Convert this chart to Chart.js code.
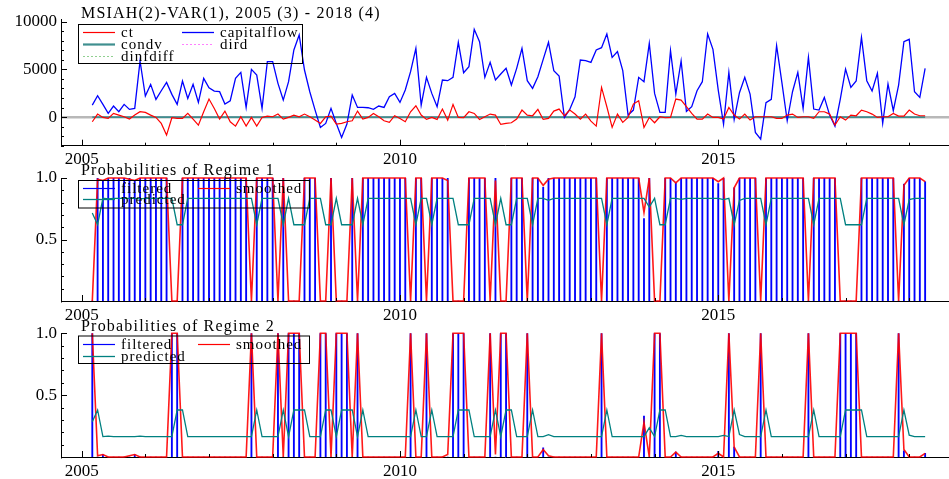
<!DOCTYPE html>
<html>
<head>
<meta charset="utf-8">
<script src="https://cdn.jsdelivr.net/npm/chart.js@4.4.1/dist/chart.umd.min.js"></script>
<style>
  html, body { margin: 0; padding: 0; background: #fff; }
  #wrap { position: relative; width: 949px; height: 479px; overflow: hidden; }
  canvas { position: absolute; left: 0; }
</style>
</head>
<body>
<div id="wrap">
  <canvas id="varChart" width="949" height="170" style="top:0px"></canvas>
  <canvas id="regime1Chart" width="949" height="165" style="top:160px"></canvas>
  <canvas id="regime2Chart" width="949" height="161" style="top:318px"></canvas>
</div>
<script>
// monthly sample 2005(3) - 2018(4), one row per calendar year
const firstYear = 2005;
const firstMonth = 3;
const yearTicks = [2005, 2006, 2007, 2008, 2009, 2010, 2011, 2012, 2013, 2014, 2015, 2016, 2017, 2018];

const capitalflow = [
  1260, 2240, 1330, 385, 1155, 560, 1330, 805, 910, 5880,
  2205, 3430, 1855, 2765, 3640, 2380, 1330, 3780, 1960, 3430, 1540, 4060,
  3080, 2730, 2660, 1365, 1715, 4060, 4690, 1015, 5005, 4410, 910, 5810,
  5810, 3535, 1785, 3710, 7035, 8610, 4935, 2660, 735, -1085, -665, 910,
  -665, -2135, -735, 2310, 1015, 1015, 980, 805, 1155, 1015, 2135, 2485,
  1540, 2835, 4760, 7210, 1260, 4165, 2485, 1085, 3885, 3815, 4165, 7840,
  4655, 5285, 9205, 7910, 4165, 5740, 3885, 4515, 5110, 3360, 5110, 7210,
  3815, 3010, 4235, 6055, 7840, 4865, 4305, -35, 805, 2135, 5985, 5915,
  5740, 7035, 7280, 8715, 6265, 6860, 4865, 210, 735, 4165, 3710, 7735,
  2485, 490, 490, 6965, 2415, 5880, 600, 1085, 2765, 3710, 8715, 7105,
  2835, -735, 4690, -245, 2555, 4165, 2415, -1610, -2310, 1505, 1855, 7490,
  3605, -385, 2660, 4690, 910, 6265, 840, 735, 2065, 210, -945, 1855,
  5040, 3115, 3780, 8365, 3815, 2730, 4585, -665, 3465, 665, 3360, 7910,
  8155, 2660, 2065, 5110
];

const ct = [
  -490, 315, -35, -140, 385, 210, 35, -210, 210, 560,
  490, 210, -35, -665, -1890, -70, -140, -140, 385, -210, -840, 560,
  1890, 910, -210, 630, -490, -945, 35, -945, -35, -945, -35, 105,
  35, 315, -210, -35, 210, 35, 315, 35, -315, -665, 35, 105,
  -735, -665, -490, -385, 630, -210, -35, 385, 35, -385, -560, 140,
  -140, -490, 560, 1190, 210, -245, -35, -245, 840, -315, 1330, -35,
  -70, 560, 385, -245, 35, 315, 210, -770, -665, -595, -210, 735,
  210, 140, 805, -245, -140, 630, 840, 140, 735, 315, -210, 315,
  -420, -945, 3115, 1085, -1085, 315, -560, -35, 1365, 1715, -1085, -35,
  -595, 35, -70, -35, 1890, 1785, 1100, 385, -210, -210, 315, -35,
  -35, -210, 1015, 210, -210, 315, -315, 35, 35, 35, 35, -140,
  -140, 210, 315, -35, 35, 35, -140, 560, 560, 315, -840, 35,
  -315, 210, 140, 735, 560, 315, -35, 35, 35, 385, 105, 105,
  735, 315, 140, 140
];

// condv, dird and dinfdiff sit on the zero line at this scale
const condv = [
  0, 0, 0, 0, 0, 0, 0, 0, 0, 0,
  0, 0, 0, 0, 0, 0, 0, 0, 0, 0, 0, 0,
  0, 0, 0, 0, 0, 0, 0, 0, 0, 0, 0, 0,
  0, 0, 0, 0, 0, 0, 0, 0, 0, 0, 0, 0,
  0, 0, 0, 0, 0, 0, 0, 0, 0, 0, 0, 0,
  0, 0, 0, 0, 0, 0, 0, 0, 0, 0, 0, 0,
  0, 0, 0, 0, 0, 0, 0, 0, 0, 0, 0, 0,
  0, 0, 0, 0, 0, 0, 0, 0, 0, 0, 0, 0,
  0, 0, 0, 0, 0, 0, 0, 0, 0, 0, 0, 0,
  0, 0, 0, 0, 0, 0, 0, 0, 0, 0, 0, 0,
  0, 0, 0, 0, 0, 0, 0, 0, 0, 0, 0, 0,
  0, 0, 0, 0, 0, 0, 0, 0, 0, 0, 0, 0,
  0, 0, 0, 0, 0, 0, 0, 0, 0, 0, 0, 0,
  0, 0, 0, 0
];
const dird = [
  0, 0, 0, 0, 0, 0, 0, 0, 0, 0,
  0, 0, 0, 0, 0, 0, 0, 0, 0, 0, 0, 0,
  0, 0, 0, 0, 0, 0, 0, 0, 0, 0, 0, 0,
  0, 0, 0, 0, 0, 0, 0, 0, 0, 0, 0, 0,
  0, 0, 0, 0, 0, 0, 0, 0, 0, 0, 0, 0,
  0, 0, 0, 0, 0, 0, 0, 0, 0, 0, 0, 0,
  0, 0, 0, 0, 0, 0, 0, 0, 0, 0, 0, 0,
  0, 0, 0, 0, 0, 0, 0, 0, 0, 0, 0, 0,
  0, 0, 0, 0, 0, 0, 0, 0, 0, 0, 0, 0,
  0, 0, 0, 0, 0, 0, 0, 0, 0, 0, 0, 0,
  0, 0, 0, 0, 0, 0, 0, 0, 0, 0, 0, 0,
  0, 0, 0, 0, 0, 0, 0, 0, 0, 0, 0, 0,
  0, 0, 0, 0, 0, 0, 0, 0, 0, 0, 0, 0,
  0, 0, 0, 0
];
const dinfdiff = [
  0, 0, 0, 0, 0, 0, 0, 0, 0, 0,
  0, 0, 0, 0, 0, 0, 0, 0, 0, 0, 0, 0,
  0, 0, 0, 0, 0, 0, 0, 0, 0, 0, 0, 0,
  0, 0, 0, 0, 0, 0, 0, 0, 0, 0, 0, 0,
  0, 0, 0, 0, 0, 0, 0, 0, 0, 0, 0, 0,
  0, 0, 0, 0, 0, 0, 0, 0, 0, 0, 0, 0,
  0, 0, 0, 0, 0, 0, 0, 0, 0, 0, 0, 0,
  0, 0, 0, 0, 0, 0, 0, 0, 0, 0, 0, 0,
  0, 0, 0, 0, 0, 0, 0, 0, 0, 0, 0, 0,
  0, 0, 0, 0, 0, 0, 0, 0, 0, 0, 0, 0,
  0, 0, 0, 0, 0, 0, 0, 0, 0, 0, 0, 0,
  0, 0, 0, 0, 0, 0, 0, 0, 0, 0, 0, 0,
  0, 0, 0, 0, 0, 0, 0, 0, 0, 0, 0, 0,
  0, 0, 0, 0
];

// regime 1 probabilities
const filteredR1 = [
  0, 1, 0.98, 1, 1, 1, 1, 1, 0.98, 1,
  1, 1, 1, 1, 1, 0, 0, 1, 1, 1, 1, 1,
  1, 1, 1, 1, 1, 1, 1, 1, 0, 1, 1, 1,
  1, 0, 1, 0, 0, 0, 1, 1, 1, 0, 0, 1,
  0, 0, 0, 1, 0, 1, 1, 1, 1, 1, 1, 1,
  1, 1, 0, 1, 1, 0, 1, 1, 1, 1, 0, 0,
  0, 1, 1, 1, 1, 0, 1, 0, 0, 1, 1, 1,
  0, 1, 1, 0.925, 1, 1, 1, 1, 1, 1, 1, 1,
  1, 1, 0, 1, 1, 1, 1, 1, 1, 1, 0.67, 1,
  0, 0, 1, 1, 0.96, 1, 1, 1, 1, 1, 1, 1,
  0.955, 1, 0, 0.92, 1, 1, 1, 1, 0, 1, 1, 1,
  1, 1, 1, 1, 1, 0, 1, 1, 1, 1, 1, 0,
  0, 0, 0, 1, 1, 1, 1, 1, 1, 1, 0, 0.95,
  1, 1, 1, 0.97
];
const smoothedR1 = [
  0, 0.99, 0.98, 1, 1, 1, 1, 0.99, 0.98, 1,
  1, 1, 1, 1, 1, 0, 0, 1, 1, 1, 1, 1,
  1, 1, 1, 1, 1, 1, 1, 1, 0, 1, 1, 1,
  1, 0, 1, 0, 0, 0, 1, 1, 1, 0, 0, 1,
  0, 0, 0, 1, 0, 1, 1, 1, 1, 1, 1, 1,
  1, 1, 0, 1, 1, 0, 1, 1, 1, 0.98, 0, 0,
  0, 1, 1, 1, 1, 0, 0.98, 0, 0, 1, 1, 1,
  0, 1, 1, 0.94, 0.99, 1, 1, 1, 1, 1, 1, 1,
  1, 1, 0, 1, 1, 1, 1, 1, 1, 1, 0.72, 1,
  0, 0, 1, 1, 0.96, 1, 1, 1, 1, 1, 1, 1,
  0.97, 1, 0, 0.92, 1, 1, 1, 1, 0, 1, 1, 1,
  1, 1, 1, 1, 1, 0, 1, 1, 1, 1, 1, 0,
  0, 0, 0, 1, 1, 1, 1, 1, 1, 1, 0, 0.94,
  1, 1, 1, 0.97
];
const predictedR1 = [
  0.715, 0.62, 0.835, 0.831, 0.835, 0.835, 0.835, 0.835, 0.835, 0.831,
  0.835, 0.835, 0.835, 0.835, 0.835, 0.835, 0.62, 0.62, 0.835, 0.835, 0.835, 0.835,
  0.835, 0.835, 0.835, 0.835, 0.835, 0.835, 0.835, 0.835, 0.835, 0.62, 0.835, 0.835,
  0.835, 0.835, 0.62, 0.835, 0.62, 0.62, 0.62, 0.835, 0.835, 0.835, 0.62, 0.62,
  0.835, 0.62, 0.62, 0.62, 0.835, 0.62, 0.835, 0.835, 0.835, 0.835, 0.835, 0.835,
  0.835, 0.835, 0.835, 0.62, 0.835, 0.835, 0.62, 0.835, 0.835, 0.835, 0.835, 0.62,
  0.62, 0.62, 0.835, 0.835, 0.835, 0.835, 0.62, 0.835, 0.62, 0.62, 0.835, 0.835,
  0.835, 0.62, 0.835, 0.835, 0.819, 0.835, 0.835, 0.835, 0.835, 0.835, 0.835, 0.835,
  0.835, 0.835, 0.835, 0.62, 0.835, 0.835, 0.835, 0.835, 0.835, 0.835, 0.835, 0.764,
  0.835, 0.62, 0.62, 0.835, 0.835, 0.826, 0.835, 0.835, 0.835, 0.835, 0.835, 0.835,
  0.835, 0.825, 0.835, 0.62, 0.818, 0.835, 0.835, 0.835, 0.835, 0.62, 0.835, 0.835,
  0.835, 0.835, 0.835, 0.835, 0.835, 0.835, 0.62, 0.835, 0.835, 0.835, 0.835, 0.835,
  0.62, 0.62, 0.62, 0.62, 0.835, 0.835, 0.835, 0.835, 0.835, 0.835, 0.835, 0.62,
  0.824, 0.835, 0.835, 0.835
];

// regime 2 probabilities
const filteredR2 = [
  1, 0, 0.02, 0, 0, 0, 0, 0, 0.02, 0,
  0, 0, 0, 0, 0, 1, 1, 0, 0, 0, 0, 0,
  0, 0, 0, 0, 0, 0, 0, 0, 1, 0, 0, 0,
  0, 1, 0, 1, 1, 1, 0, 0, 0, 1, 1, 0,
  1, 1, 1, 0, 1, 0, 0, 0, 0, 0, 0, 0,
  0, 0, 1, 0, 0, 1, 0, 0, 0, 0, 1, 1,
  1, 0, 0, 0, 0, 1, 0, 1, 1, 0, 0, 0,
  1, 0, 0, 0.075, 0, 0, 0, 0, 0, 0, 0, 0,
  0, 0, 1, 0, 0, 0, 0, 0, 0, 0, 0.33, 0,
  1, 1, 0, 0, 0.04, 0, 0, 0, 0, 0, 0, 0,
  0.045, 0, 1, 0.08, 0, 0, 0, 0, 1, 0, 0, 0,
  0, 0, 0, 0, 0, 1, 0, 0, 0, 0, 0, 1,
  1, 1, 1, 0, 0, 0, 0, 0, 0, 0, 1, 0.05,
  0, 0, 0, 0.03
];
const smoothedR2 = [
  1, 0.01, 0.02, 0, 0, 0, 0, 0.01, 0.02, 0,
  0, 0, 0, 0, 0, 1, 1, 0, 0, 0, 0, 0,
  0, 0, 0, 0, 0, 0, 0, 0, 1, 0, 0, 0,
  0, 1, 0, 1, 1, 1, 0, 0, 0, 1, 1, 0,
  1, 1, 1, 0, 1, 0, 0, 0, 0, 0, 0, 0,
  0, 0, 1, 0, 0, 1, 0, 0, 0, 0.02, 1, 1,
  1, 0, 0, 0, 0, 1, 0.02, 1, 1, 0, 0, 0,
  1, 0, 0, 0.06, 0.01, 0, 0, 0, 0, 0, 0, 0,
  0, 0, 1, 0, 0, 0, 0, 0, 0, 0, 0.28, 0,
  1, 1, 0, 0, 0.04, 0, 0, 0, 0, 0, 0, 0,
  0.03, 0, 1, 0.08, 0, 0, 0, 0, 1, 0, 0, 0,
  0, 0, 0, 0, 0, 1, 0, 0, 0, 0, 0, 1,
  1, 1, 1, 0, 0, 0, 0, 0, 0, 0, 1, 0.06,
  0, 0, 0, 0.03
];
const predictedR2 = [
  0.285, 0.38, 0.165, 0.169, 0.165, 0.165, 0.165, 0.165, 0.165, 0.169,
  0.165, 0.165, 0.165, 0.165, 0.165, 0.165, 0.38, 0.38, 0.165, 0.165, 0.165, 0.165,
  0.165, 0.165, 0.165, 0.165, 0.165, 0.165, 0.165, 0.165, 0.165, 0.38, 0.165, 0.165,
  0.165, 0.165, 0.38, 0.165, 0.38, 0.38, 0.38, 0.165, 0.165, 0.165, 0.38, 0.38,
  0.165, 0.38, 0.38, 0.38, 0.165, 0.38, 0.165, 0.165, 0.165, 0.165, 0.165, 0.165,
  0.165, 0.165, 0.165, 0.38, 0.165, 0.165, 0.38, 0.165, 0.165, 0.165, 0.165, 0.38,
  0.38, 0.38, 0.165, 0.165, 0.165, 0.165, 0.38, 0.165, 0.38, 0.38, 0.165, 0.165,
  0.165, 0.38, 0.165, 0.165, 0.181, 0.165, 0.165, 0.165, 0.165, 0.165, 0.165, 0.165,
  0.165, 0.165, 0.165, 0.38, 0.165, 0.165, 0.165, 0.165, 0.165, 0.165, 0.165, 0.236,
  0.165, 0.38, 0.38, 0.165, 0.165, 0.174, 0.165, 0.165, 0.165, 0.165, 0.165, 0.165,
  0.165, 0.175, 0.165, 0.38, 0.182, 0.165, 0.165, 0.165, 0.165, 0.38, 0.165, 0.165,
  0.165, 0.165, 0.165, 0.165, 0.165, 0.165, 0.38, 0.165, 0.165, 0.165, 0.165, 0.165,
  0.38, 0.38, 0.38, 0.38, 0.165, 0.165, 0.165, 0.165, 0.165, 0.165, 0.165, 0.38,
  0.176, 0.165, 0.165, 0.165
];

const serif = "'Liberation Serif', 'DejaVu Serif', serif";
const X_MIN = 2004.675;
const X_MAX = 2018.625;

// decimal year of each observation
const dates = capitalflow.map((v, i) => firstYear + (firstMonth - 1 + i) / 12);
const pts = (arr) => arr.map((y, i) => ({ x: dates[i], y }));

// ticks drawn inwards, the way the original package does it
const insideTicks = {
  id: "insideTicks",
  afterDraw(chart, args, opts) {
    const { ctx, chartArea, scales } = chart;
    ctx.save();
    ctx.strokeStyle = "#000";
    ctx.lineWidth = 1;
    ctx.beginPath();
    scales.x.ticks.forEach((t) => {
      const px = Math.round(scales.x.getPixelForValue(t.value)) + 0.5;
      const len = t.value % 5 === 0 ? 6 : 3;
      ctx.moveTo(px, chartArea.bottom);
      ctx.lineTo(px, chartArea.bottom - len);
    });
    scales.y.ticks.forEach((t) => {
      const py = Math.round(scales.y.getPixelForValue(t.value)) + 0.5;
      const len = opts.majorY.includes(t.value) ? 6 : 3;
      ctx.moveTo(chartArea.left, py);
      ctx.lineTo(chartArea.left + len, py);
    });
    ctx.stroke();
    ctx.restore();
  },
};

// title text and the boxed legend
const panelText = {
  id: "panelText",
  afterDraw(chart, args, opts) {
    const ctx = chart.ctx;
    ctx.save();
    ctx.fillStyle = "#000";
    ctx.font = `16px ${serif}`;
    ctx.letterSpacing = "1.2px";
    ctx.textBaseline = "alphabetic";
    ctx.fillText(opts.title, 81, opts.titleY);

    const [x1, y1, x2, y2] = opts.box;
    ctx.strokeStyle = "#000";
    ctx.lineWidth = 1;
    ctx.strokeRect(x1 + 0.5, y1 + 0.5, x2 - x1, y2 - y1);

    ctx.font = `15px ${serif}`;
    ctx.letterSpacing = "1px";
    ctx.textBaseline = "middle";
    opts.items.forEach((it) => {
      ctx.strokeStyle = it.color;
      ctx.lineWidth = it.width;
      ctx.setLineDash(it.dash);
      ctx.beginPath();
      ctx.moveTo(it.lx, it.ly);
      ctx.lineTo(it.lx + 32, it.ly);
      ctx.stroke();
      ctx.setLineDash([]);
      ctx.fillText(it.label, it.lx + 38, it.ly + 1);
    });
    ctx.restore();
  },
};

function xScale(height) {
  return {
    type: "linear",
    min: X_MIN,
    max: X_MAX,
    offset: false,
    afterBuildTicks: (scale) => {
      scale.ticks = yearTicks.map((v) => ({ value: v }));
    },
    afterFit: (scale) => {
      scale.height = height;
    },
    grid: { display: false, drawTicks: false },
    border: { display: true, color: "#000", width: 1 },
    ticks: {
      autoSkip: false,
      maxRotation: 0,
      padding: 4,
      color: "#000",
      font: { family: serif, size: 17 },
      callback: (v) => (v % 5 === 0 ? String(v) : ""),
    },
  };
}

function yScale(min, max, tickValues, labels, zeroLine) {
  return {
    min,
    max,
    afterBuildTicks: (scale) => {
      scale.ticks = tickValues.map((v) => ({ value: v }));
    },
    afterFit: (scale) => {
      scale.width = 61;
    },
    grid: {
      display: zeroLine,
      drawTicks: false,
      color: (c) => (c.tick && c.tick.value === 0 ? "#b8b8b8" : "rgba(0,0,0,0)"),
      lineWidth: 2.5,
    },
    border: { display: true, color: "#000", width: 1 },
    ticks: {
      autoSkip: false,
      padding: 4,
      color: "#000",
      font: { family: serif, size: 17 },
      callback: (v) => (labels[v] !== undefined ? labels[v] : ""),
    },
  };
}

const lineDefaults = { pointRadius: 0, tension: 0, fill: false, clip: 3 };

// top panel: the VAR series
new Chart(document.getElementById("varChart"), {
  type: "line",
  data: {
    datasets: [
      { ...lineDefaults, label: "ct", data: pts(ct), borderColor: "#ff0000", borderWidth: 1.2 },
      { ...lineDefaults, label: "capitalflow", data: pts(capitalflow), borderColor: "#0000ff", borderWidth: 1.3 },
      { ...lineDefaults, label: "condv", data: pts(condv), borderColor: "#3f8f8f", borderWidth: 1.6 },
      { ...lineDefaults, label: "dird", data: pts(dird), borderColor: "#ff80ff", borderWidth: 1, borderDash: [2, 2] },
      { ...lineDefaults, label: "dinfdiff", data: pts(dinfdiff), borderColor: "#90d090", borderWidth: 1, borderDash: [2, 2] },
    ],
  },
  options: {
    responsive: false,
    animation: false,
    devicePixelRatio: 1,
    layout: { padding: { top: 19.8, left: 0, right: 0, bottom: 0 } },
    scales: {
      x: xScale(24.3),
      y: yScale(
        -3000,
        10200,
        [-3000, -2000, -1000, 0, 1000, 2000, 3000, 4000, 5000, 6000, 7000, 8000, 9000, 10000],
        { 0: "0", 5000: "5000", 10000: "10000" },
        true
      ),
    },
    plugins: {
      legend: { display: false },
      tooltip: { enabled: false },
      insideTicks: { majorY: [0, 5000, 10000] },
      panelText: {
        title: "MSIAH(2)-VAR(1), 2005 (3) - 2018 (4)",
        titleY: 18,
        box: [78, 24, 302, 63],
        items: [
          { label: "ct", color: "#ff0000", width: 1.2, dash: [], lx: 83, ly: 32.5 },
          { label: "capitalflow", color: "#0000ff", width: 1.3, dash: [], lx: 182, ly: 32.5 },
          { label: "condv", color: "#3f8f8f", width: 2.2, dash: [], lx: 83, ly: 44.5 },
          { label: "dird", color: "#ff80ff", width: 1, dash: [2, 2], lx: 182, ly: 44.5 },
          { label: "dinfdiff", color: "#90d090", width: 1, dash: [2, 2], lx: 83, ly: 56.5 },
        ],
      },
    },
  },
  plugins: [insideTicks, panelText],
});

const probTicks = [0, 0.1, 0.2, 0.3, 0.4, 0.5, 0.6, 0.7, 0.8, 0.9, 1];
const probLabels = { 0.5: "0.5", 1: "1.0" };

function regimeChart(id, filtered, smoothed, predicted, cfg) {
  return new Chart(document.getElementById(id), {
    type: "bar",
    data: {
      datasets: [
        { ...lineDefaults, type: "line", label: "predicted", data: pts(predicted), borderColor: "#008080", borderWidth: 1.3, order: 0 },
        { ...lineDefaults, type: "line", label: "smoothed", data: pts(smoothed), borderColor: "rgba(255,0,0,0.9)", borderWidth: 1.6, order: 1 },
        { type: "bar", label: "filtered", data: pts(filtered), backgroundColor: "#0000ff", borderWidth: 0, barThickness: 1.2, order: 2 },
      ],
    },
    options: {
      responsive: false,
      animation: false,
      devicePixelRatio: 1,
      layout: { padding: { top: cfg.top, left: 0, right: 0, bottom: 0 } },
      scales: {
        x: xScale(cfg.xHeight),
        y: yScale(0, 1, probTicks, probLabels, false),
      },
      plugins: {
        legend: { display: false },
        tooltip: { enabled: false },
        insideTicks: { majorY: [0.5, 1] },
        panelText: {
          title: cfg.title,
          titleY: cfg.titleY,
          box: cfg.box,
          items: [
            { label: "filtered", color: "#0000ff", width: 1.2, dash: [], lx: 83, ly: cfg.row1 },
            { label: "smoothed", color: "#ff0000", width: 1.2, dash: [], lx: 198, ly: cfg.row1 },
            { label: "predicted", color: "#008080", width: 1.3, dash: [], lx: 83, ly: cfg.row2 },
          ],
        },
      },
    },
    plugins: [insideTicks, panelText],
  });
}

regimeChart("regime1Chart", filteredR1, smoothedR1, predictedR1, {
  top: 18, xHeight: 24, title: "Probabilities of Regime 1", titleY: 15,
  box: [78, 20, 309, 47.5], row1: 28.5, row2: 39.5,
});
regimeChart("regime2Chart", filteredR2, smoothedR2, predictedR2, {
  top: 15.3, xHeight: 22, title: "Probabilities of Regime 2", titleY: 13,
  box: [78, 17.5, 309, 45], row1: 26.5, row2: 38.5,
});
</script>
</body>
</html>
